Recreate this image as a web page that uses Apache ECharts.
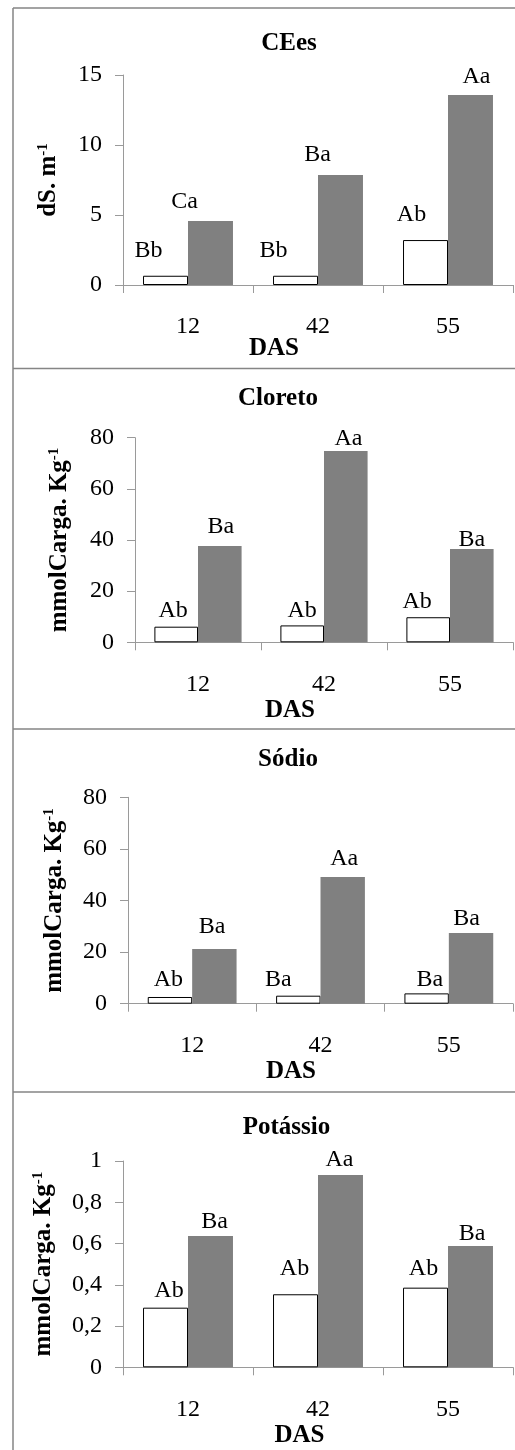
<!DOCTYPE html>
<html>
<head>
<meta charset="utf-8">
<script src="https://cdn.jsdelivr.net/npm/echarts@6/dist/echarts.min.js"></script>
<style>
html,body{margin:0;padding:0;background:#fff;}
#chart{width:515px;height:1450px;}
</style>
</head>
<body>
<div id="chart"></div>
<script>
// ---- data ----
const categories = ['12', '42', '55'];
const xAxisTitle = 'DAS';
const panelTitles = ['CEes', 'Cloreto', 'Sódio', 'Potássio'];
const unitMain = ['dS. m', 'mmolCarga. Kg', 'mmolCarga. Kg', 'mmolCarga. Kg'];
const unitSup = ['-1', '-1', '-1', '-1'];

const ceesControl = [0.66, 0.66, 3.21];
const ceesSaline = [4.57, 7.86, 13.57];
const ceesControlLetters = ['Bb', 'Bb', 'Ab'];
const ceesSalineLetters = ['Ca', 'Ba', 'Aa'];

const cloretoControl = [6.1, 6.6, 9.8];
const cloretoSaline = [37.7, 74.8, 36.5];
const cloretoControlLetters = ['Ab', 'Ab', 'Ab'];
const cloretoSalineLetters = ['Ba', 'Aa', 'Ba'];

const sodioControl = [2.6, 3.1, 4.0];
const sodioSaline = [21.2, 49.1, 27.4];
const sodioControlLetters = ['Ab', 'Ba', 'Ba'];
const sodioSalineLetters = ['Ba', 'Aa', 'Ba'];

const potassioControl = [0.289, 0.354, 0.386];
const potassioSaline = [0.636, 0.932, 0.588];
const potassioControlLetters = ['Ab', 'Ab', 'Ab'];
const potassioSalineLetters = ['Ba', 'Aa', 'Ba'];

const yMax = [15, 80, 80, 1];
const yInterval = [5, 20, 20, 0.2];

// ---- layout (positions / styles) ----
const FONT = '"Liberation Serif", "Times New Roman", serif';
const FS = 24, FSB = 25;
const layout = [
  { left: 123, top: 75, height: 210, frameTop: 8, titleX: 289, titleY: 44, dasX: 274, dasY: 349, nameGap: 62,
    ctrlNudge: [[-17, 25], [-22, 25], [-14, 25.5]], salNudge: [[-26, 19.5], [-23, 20], [6, 18]] },
  { left: 135, top: 437.7, height: 204.6, frameTop: 368.5, titleX: 278, titleY: 399, dasX: 290, dasY: 710.5, nameGap: 63,
    ctrlNudge: [[-3, 15.7], [0, 14.3], [-11, 15.3]], salNudge: [[1, 19], [2.7, 12.3], [0, 9.5]] },
  { left: 128, top: 797.3, height: 206.4, frameTop: 729, titleX: 288, titleY: 760, dasX: 291, dasY: 1072, nameGap: 61,
    ctrlNudge: [[-1.6, 17.3], [-20, 16], [3.3, 13.6]], salNudge: [[-2.4, 22.3], [1.5, 18.3], [-4.5, 14.3]] },
  { left: 123, top: 1161, height: 206.3, frameTop: 1092, titleX: 286.5, titleY: 1127.5, dasX: 299.5, dasY: 1436, nameGap: 67,
    ctrlNudge: [[3.5, 17.4], [-1, 25.5], [-2, 18.9]], salNudge: [[4, 14.8], [-1, 15], [1.6, 11.8]] }
];

const controls = [ceesControl, cloretoControl, sodioControl, potassioControl];
const salines = [ceesSaline, cloretoSaline, sodioSaline, potassioSaline];
const controlLetters = [ceesControlLetters, cloretoControlLetters, sodioControlLetters, potassioControlLetters];
const salineLetters = [ceesSalineLetters, cloretoSalineLetters, sodioSalineLetters, potassioSalineLetters];

const axisGray = '#9a9a9a';
const frameGray = '#858585';

const grids = [], xAxes = [], yAxes = [], series = [], graphics = [];

function makeData(values, letters, nudges) {
  return values.map((v, i) => ({
    value: v,
    label: {
      formatter: letters[i],
      offset: [nudges[i][0], FS / 2 - nudges[i][1]]
    }
  }));
}

layout.forEach((L, p) => {
  grids.push({ left: L.left, right: 2, top: L.top, height: L.height, containLabel: false });
  xAxes.push({
    type: 'category', gridIndex: p, data: categories,
    axisLine: { lineStyle: { color: axisGray, width: 1 } },
    axisTick: { show: true, length: 8, lineStyle: { color: axisGray } },
    axisLabel: { color: '#000', fontFamily: FONT, fontSize: FS, margin: 30 }
  });
  yAxes.push({
    type: 'value', gridIndex: p, min: 0, max: yMax[p], interval: yInterval[p],
    splitLine: { show: false },
    axisLine: { show: true, lineStyle: { color: axisGray, width: 1 } },
    axisTick: { show: true, length: 8, lineStyle: { color: axisGray } },
    axisLabel: {
      color: '#000', fontFamily: FONT, fontSize: FS, margin: 21,
      formatter: v => String(+v.toFixed(2)).replace('.', ',')
    },
    name: '{n|' + unitMain[p] + '}{s|' + unitSup[p] + '}',
    nameLocation: 'middle', nameRotate: 90, nameGap: L.nameGap,
    nameTextStyle: {
      rich: {
        n: { fontFamily: FONT, fontWeight: 'bold', fontSize: FSB, color: '#000' },
        s: { fontFamily: FONT, fontWeight: 'bold', fontSize: 15, color: '#000', verticalAlign: 'top' }
      }
    }
  });
  const labelBase = { show: true, position: 'top', distance: 0, color: '#000', fontFamily: FONT, fontSize: FS };
  series.push({
    type: 'bar', xAxisIndex: p, yAxisIndex: p,
    barGap: '0%', barCategoryGap: '30.8%',
    itemStyle: { color: '#fff', borderColor: '#000', borderWidth: 1 },
    label: labelBase,
    data: makeData(controls[p], controlLetters[p], L.ctrlNudge),
    animation: false
  });
  series.push({
    type: 'bar', xAxisIndex: p, yAxisIndex: p,
    barGap: '0%', barCategoryGap: '30.8%',
    itemStyle: { color: '#808080' },
    label: labelBase,
    data: makeData(salines[p], salineLetters[p], L.salNudge),
    animation: false
  });
  graphics.push({
    type: 'line', silent: true,
    shape: { x1: 13, y1: L.frameTop, x2: 515, y2: L.frameTop },
    style: { stroke: frameGray, lineWidth: 1.5 }
  });
  graphics.push({
    type: 'text', silent: true, x: L.titleX, y: L.titleY,
    style: { text: panelTitles[p], fill: '#000', font: 'bold ' + FSB + 'px ' + FONT, align: 'center', verticalAlign: 'middle' }
  });
  graphics.push({
    type: 'text', silent: true, x: L.dasX, y: L.dasY,
    style: { text: xAxisTitle, fill: '#000', font: 'bold ' + FSB + 'px ' + FONT, align: 'center', verticalAlign: 'middle' }
  });
});
graphics.push({
  type: 'line', silent: true,
  shape: { x1: 13, y1: 8, x2: 13, y2: 1450 },
  style: { stroke: frameGray, lineWidth: 1.5 }
});

const chart = echarts.init(document.getElementById('chart'), null, { renderer: 'canvas' });
chart.setOption({
  animation: false,
  backgroundColor: '#fff',
  grid: grids,
  xAxis: xAxes,
  yAxis: yAxes,
  series: series,
  graphic: graphics
});
</script>
</body>
</html>
